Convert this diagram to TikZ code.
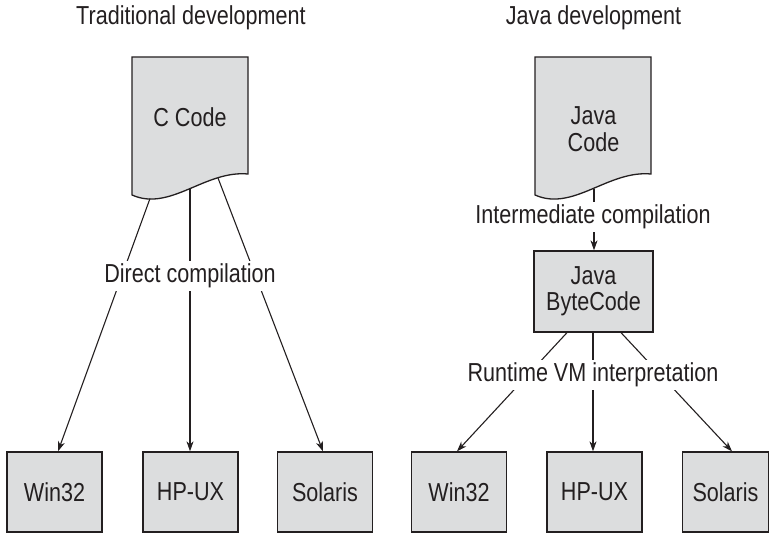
\documentclass[tikz,border=0pt]{standalone}
\usepackage{fontspec}
\setmainfont{Liberation Sans}[FakeStretch=0.83]
\usetikzlibrary{arrows.meta,calc}
\definecolor{boxfill}{RGB}{220,221,222}
\definecolor{ink}{RGB}{35,31,32}
\begin{document}
\begin{tikzpicture}[x=1pt,y=-1pt,
  font=\fontsize{26}{26.5}\selectfont, text=ink,
  box/.style={draw=ink, fill=boxfill, line width=1.3pt, minimum width=95pt, minimum height=80pt, inner sep=0pt, align=center},
  docshape/.style={draw=ink, fill=boxfill, line width=1.3pt},
  lbl/.style={fill=white, inner sep=3pt, anchor=base},
  title/.style={anchor=base, inner sep=0pt},
  conn/.style={draw=ink, line width=1.1pt},
  arr/.style={conn, -{Stealth[length=10pt,width=7pt,inset=3pt]}}
]
\useasboundingbox (0,0) rectangle (769,534);

% titles
\node[title] (t1) at (191,25) {Traditional development};
\node[title] (t2) at (593.5,25) {Java development};

% source documents
\draw[docshape] (132,57) -- (248,57) -- (248,174) .. controls (205,170) and (170,212) .. (132,195) -- cycle;
\draw[docshape] (535,57) -- (651,57) -- (651,174) .. controls (608,170) and (573,212) .. (535,195) -- cycle;
\node[anchor=base, inner sep=0pt] (ccode) at (190,127) {C Code};
\node[align=center, inner sep=0pt] (jcode) at (593.5,129.3) {Java\\Code};

\coordinate (cs1) at (150,198.5);
\coordinate (cs2) at (190,189);
\coordinate (cs3) at (218,178);
\coordinate (js) at (594,189.5);

% bytecode box
\node[box, minimum width=119pt, minimum height=81pt] (bc) at (593.5,291.5) {Java\\ByteCode};

% target boxes
\node[box] (w1) at (54.5,492) {Win32};
\node[box] (h1) at (190.5,492) {HP-UX};
\node[box] (s1) at (325,492) {Solaris};
\node[box] (w2) at (459,492) {Win32};
\node[box] (h2) at (594.5,492) {HP-UX};
\node[box, minimum width=86pt] (s2) at (725.5,492) {Solaris};

% connectors
\draw[arr] (cs1) -- ($(w1.north)+(3.5,0)$);
\draw[arr] (cs2) -- ($(h1.north)+(-0.5,0)$);
\draw[arr] (cs3) -- ($(s1.north)+(-2,0)$);
\draw[arr] (js) -- ($(bc.north)+(0.5,0)$);
\draw[arr] ($(bc.south)+(-26.5,0)$) -- ($(w2.north)+(-2,0)$);
\draw[arr] ($(bc.south)+(-0.5,0)$) -- ($(h2.north)+(-1.5,0)$);
\draw[arr] ($(bc.south)+(27.5,0)$) -- ($(s2.north)+(6.5,0)$);

% labels
\node[lbl] (dc) at (190,283) {Direct compilation};
\node[lbl] (ic) at (593,224) {Intermediate compilation};
\node[lbl] (rv) at (593,382) {Runtime VM interpretation};
\end{tikzpicture}
\end{document}
